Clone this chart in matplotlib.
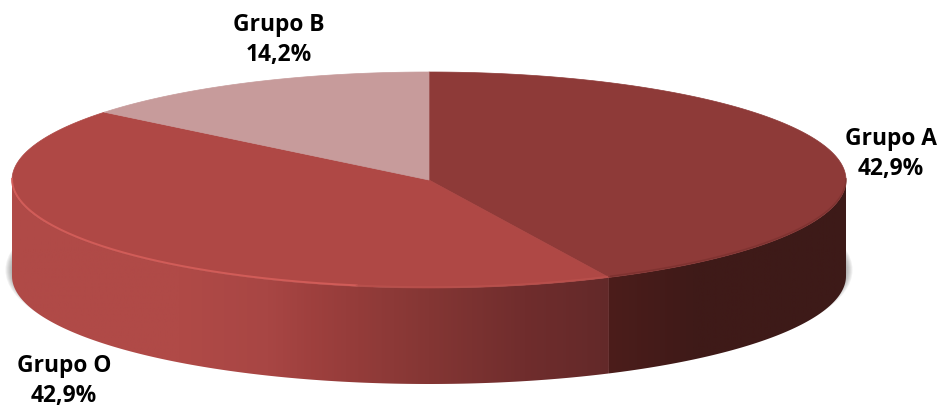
import numpy as np
import matplotlib
matplotlib.use('Agg')
import matplotlib.pyplot as plt
from matplotlib.colors import LinearSegmentedColormap
from matplotlib.patches import Ellipse, Polygon

labels = ['Grupo A', 'Grupo O', 'Grupo B']
values = [42.9, 42.9, 14.2]
top_colors = ['#8e3a38', '#af4845', '#c79b9b']
label_pos = [(891, 154), (64, 381), (279, 40)]

cx, cy = 429, 180
rx, ry = 417, 108
depth = 96


def ell(ang):
    # angle in degrees, clockwise from 12 o'clock
    a = np.radians(ang)
    return cx + rx * np.sin(a), cy - ry * np.cos(a)


fig = plt.figure(figsize=(9.41, 4.12), dpi=100)
ax = fig.add_axes([0, 0, 1, 1])
ax.set_xlim(0, 941)
ax.set_ylim(412, 0)
ax.axis('off')

# soft shadow under the disc
for i in range(7):
    grow = 6.5 - i
    ax.add_patch(Ellipse((cx, cy + depth - 6), 2 * (rx + grow), 2 * (ry + grow * 0.9),
                         fc='#666666', ec='none', alpha=0.09, zorder=1))

edges = np.cumsum([0] + values) / sum(values) * 360

# side walls, the gradient runs along x
side_O = LinearSegmentedColormap.from_list('side_O', [
    (0, '#b04a47'), (0.28, '#b04a47'), (0.43, '#a84644'), (0.5, '#9f403e'),
    (0.7, '#843634'), (0.86, '#702d2d'), (1, '#632929')])
side_A = LinearSegmentedColormap.from_list('side_A', [
    (0, '#4c1d1b'), (0.35, '#3f1a18'), (1, '#3d1a18')])

grad = np.linspace(0, 1, 256).reshape(1, -1)
a_end = edges[1]

th = np.linspace(a_end, 270, 200)
x, y = ell(th)
verts = np.r_[np.c_[x, y], np.c_[x, y + depth][::-1]]
im = ax.imshow(grad, cmap=side_O, extent=(cx - rx, x[0], 400, 100), aspect='auto', zorder=2)
im.set_clip_path(Polygon(verts, transform=ax.transData))

th = np.linspace(90, a_end, 200)
x, y = ell(th)
verts = np.r_[np.c_[x, y], np.c_[x, y + depth][::-1]]
im = ax.imshow(grad, cmap=side_A, extent=(x[-1], cx + rx, 400, 100), aspect='auto', zorder=2)
im.set_clip_path(Polygon(verts, transform=ax.transData))

ax.set_xlim(0, 941)
ax.set_ylim(412, 0)

# top face
for i in range(len(values)):
    th = np.linspace(edges[i], edges[i + 1], 200)
    x, y = ell(th)
    ax.add_patch(Polygon(np.r_[[[cx, cy]], np.c_[x, y]], fc=top_colors[i], ec=top_colors[i],
                         lw=0.5, zorder=3))

# bevel along the front rim
th = np.linspace(190, 270, 150)
x, y = ell(th)
ax.plot(x, y - 1, color='#d8605c', lw=1.4, alpha=0.85, zorder=4)
th = np.linspace(a_end, 190, 100)
x, y = ell(th)
ax.plot(x, y - 1, color='#bd524e', lw=1.2, alpha=0.7, zorder=4)
th = np.linspace(90, a_end, 200)
x, y = ell(th)
ax.plot(x, y - 1, color='#7a302e', lw=1.2, alpha=0.7, zorder=4)

for name, val, (lx, ly) in zip(labels, values, label_pos):
    ax.text(lx, ly, '%s\n%s%%' % (name, str(val).replace('.', ',')), ha='center', va='center',
            family='Open Sans', fontweight='bold', fontsize=16.4, color='black',
            linespacing=1.36, zorder=5)

fig.savefig('out.png', dpi=100)
